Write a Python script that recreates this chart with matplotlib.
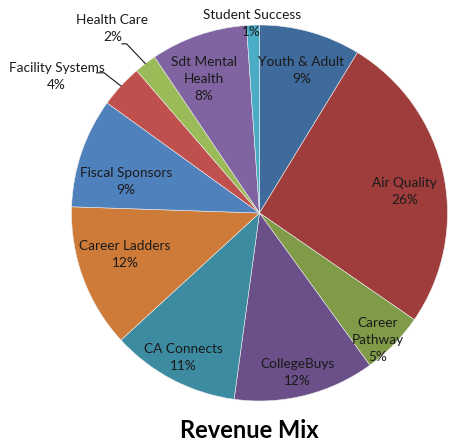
import numpy as np
import matplotlib.pyplot as plt

plt.rcParams['font.family'] = ['Lato', 'DejaVu Sans']

# Revenue share per program (percent)
programs = ['Youth & Adult', 'Air Quality', 'Career\nPathway', 'CollegeBuys', 'CA Connects',
            'Career Ladders', 'Fiscal Sponsors', 'Facility Systems', 'Health Care',
            'Sdt Mental\nHealth', 'Student Success']
shares = [8.7, 25.8, 5.4, 12.1, 11.0, 12.3, 9.4, 3.7, 1.9, 8.3, 1.1]

colors = ['#3E6A9C', '#9E3D3C', '#7F9B48', '#6A4F88', '#3C8BA1', '#CE7B39',
          '#4F81BD', '#C0504D', '#9BBB59', '#8064A2', '#4BACC6']

# label placement: radial distance (pie radius = 1) and small angular nudge (deg)
label_r = [0.79, 0.78, 0.92, 0.875, 0.87, 0.75, 0.73, 1.30, 1.255, 0.77, 1.01]
label_da = [0.7, 3.4, 2.7, 0.6, 0.0, 3.0, -5.5, -8.6, -1.2, -3.7, -0.4]
outside = {'Facility Systems', 'Health Care'}

fig = plt.figure(figsize=(4.5, 4.45), dpi=100)
ax = fig.add_axes([71.5 / 450, (445 - 401) / 445, 376 / 450, 376 / 445])

wedges, _ = ax.pie(shares, colors=colors, startangle=90, counterclock=False,
                   wedgeprops=dict(edgecolor='#eeeeee', linewidth=0.4))
ax.set_xlim(-1, 1)
ax.set_ylim(-1, 1)
ax.set_aspect('equal')
ax.axis('off')

total = sum(shares)
start = 0.0
for name, val, r, da in zip(programs, shares, label_r, label_da):
    mid = start + val / total * 360 / 2
    start += val / total * 360
    ang = np.radians(mid + da)
    x, y = r * np.sin(ang), r * np.cos(ang)
    pct = f'{round(val / total * 100):d}%'
    ax.text(x, y, f'{name}\n{pct}', ha='center', va='center', fontsize=9.8,
            color='#1a1a1a', linespacing=1.5, clip_on=False)
    if name in outside:
        m = np.radians(mid)
        ex, ey = np.sin(m), np.cos(m)
        if name == 'Facility Systems':
            pts = [(ex, ey), (ex - 0.09, ey + 0.07), (ex - 0.13, ey + 0.07)]
        else:
            pts = [(ex, ey), (ex - 0.10, ey + 0.105), (ex - 0.125, ey + 0.105)]
        ax.plot([p[0] for p in pts], [p[1] for p in pts], color='#1a1a1a',
                linewidth=0.8, clip_on=False)

fig.text(249 / 450, 1 - 430 / 445, 'Revenue Mix', ha='center', va='center',
         fontsize=17, fontweight='bold', color='#000000')

fig.savefig('out.png', dpi=100)
